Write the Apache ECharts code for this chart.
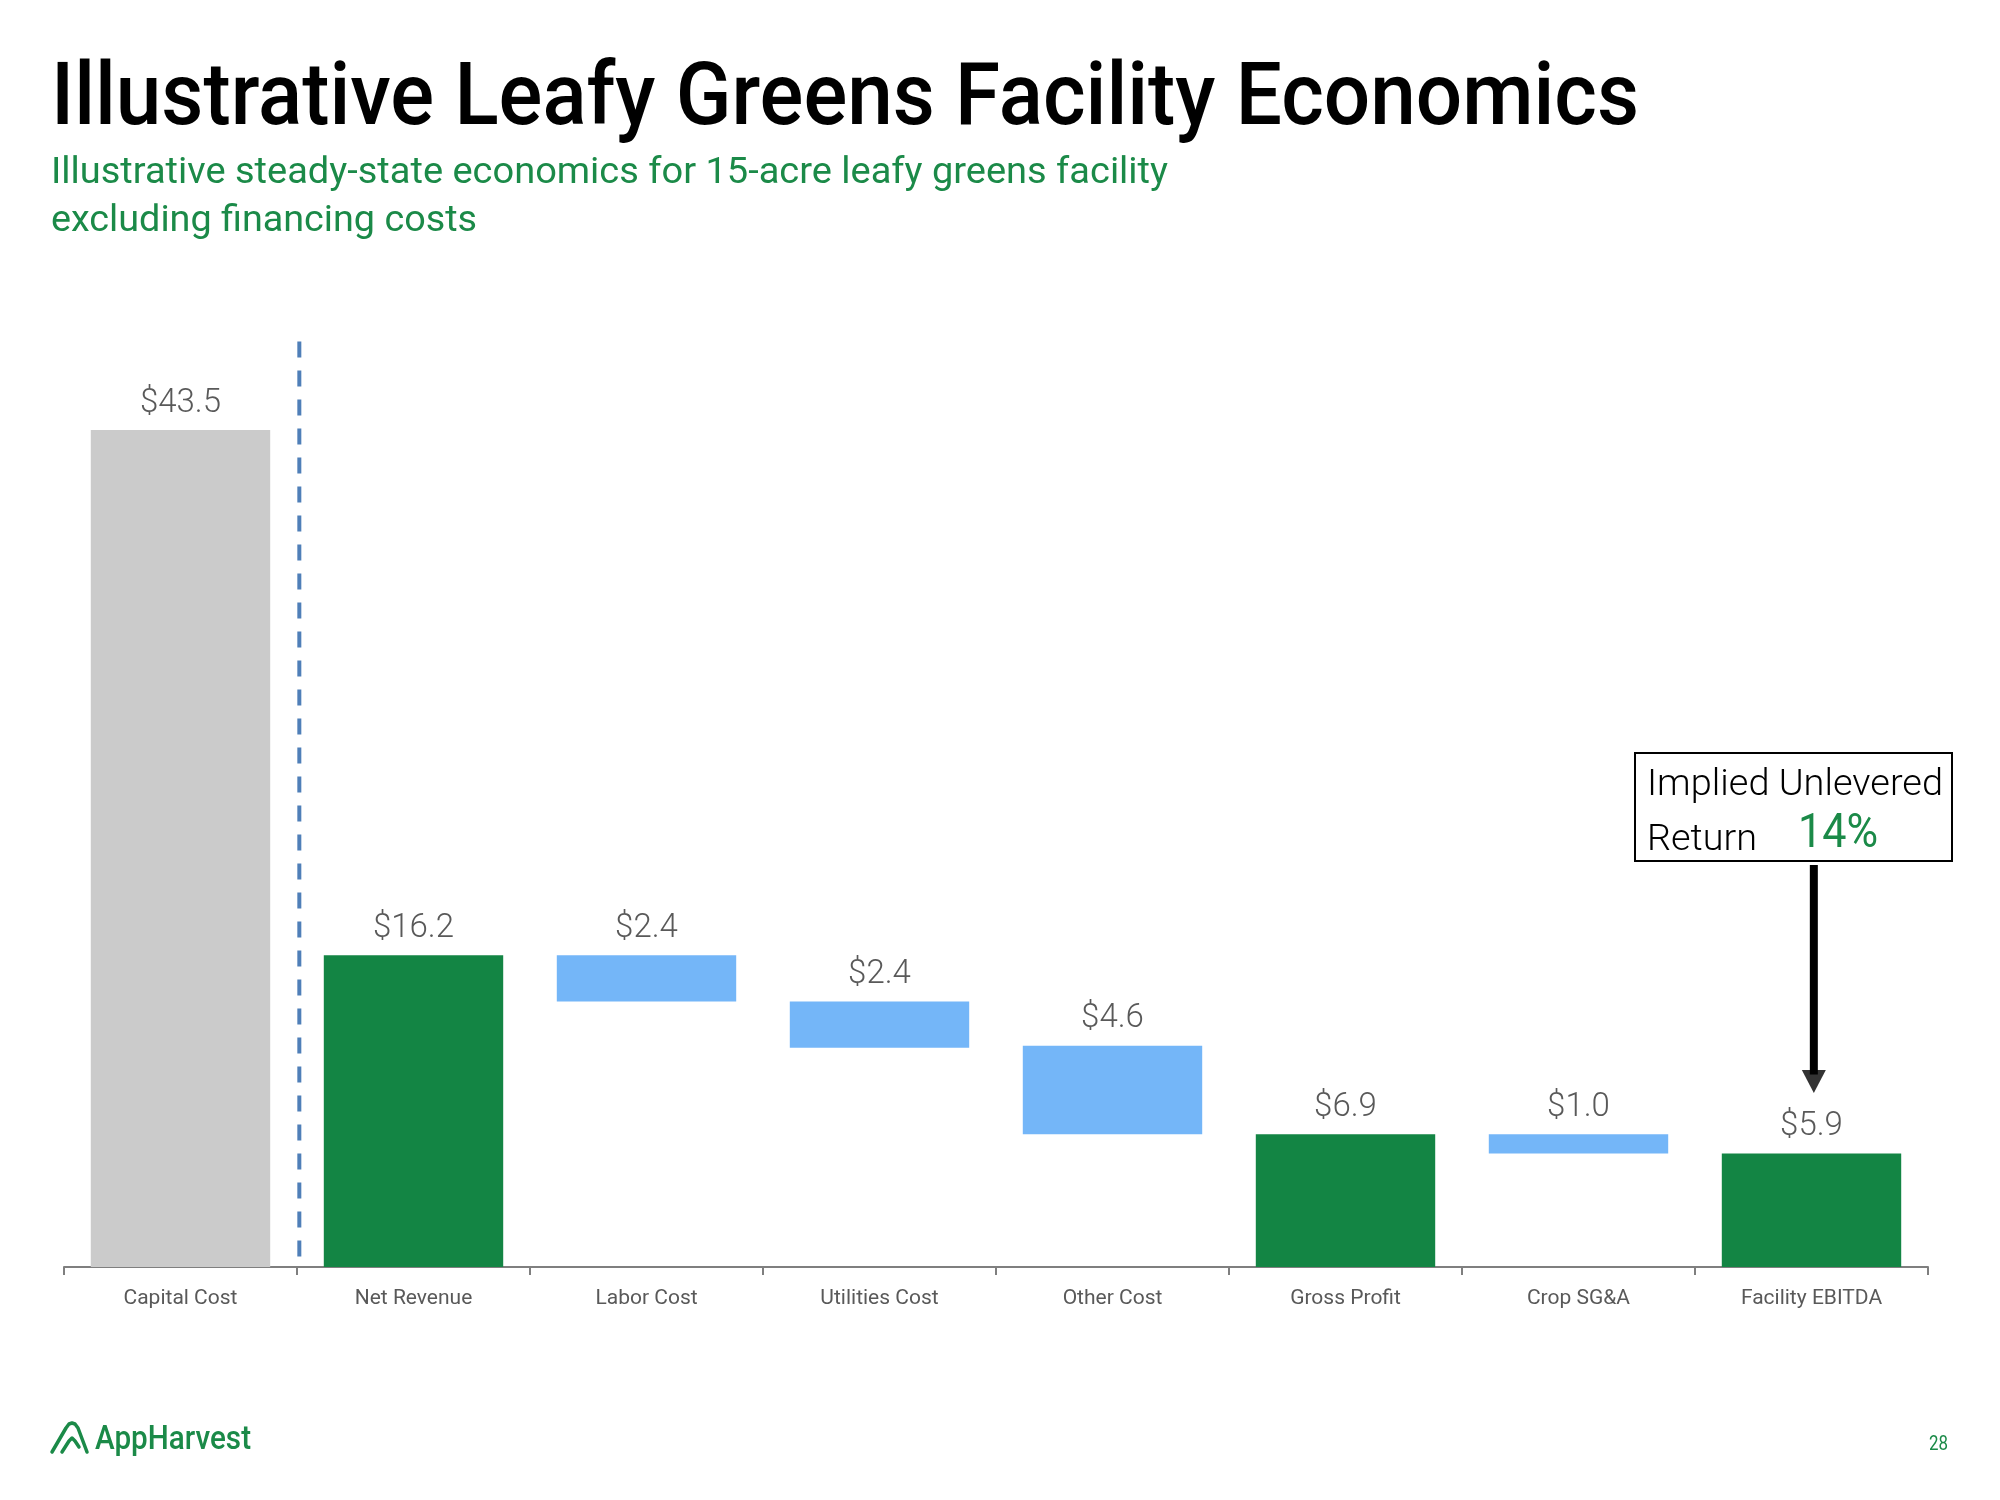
<!DOCTYPE html>
<html>
<head>
<meta charset="utf-8">
<script src="https://cdn.jsdelivr.net/npm/echarts@6/dist/echarts.min.js"></script>
<style>
html,body{margin:0;padding:0;background:#fff;}
#chart{width:2000px;height:1500px;}
</style>
</head>
<body>
<div id="chart"></div>
<script>
// ---- data ----
const categories = ['Capital Cost','Net Revenue','Labor Cost','Utilities Cost','Other Cost','Gross Profit','Crop SG&A','Facility EBITDA'];
const values = [43.5, 16.2, 2.4, 2.4, 4.6, 6.9, 1.0, 5.9];
const bases  = [0, 0, 13.8, 11.4, 6.9, 0, 5.9, 0];
const kinds  = ['capital','total','cost','cost','cost','total','cost','total'];
const dividerPoints = [[1.01, 48.1], [1.01, 0]];
const arrowLine = [[7.51, 20.9], [7.51, 10.0]];
const arrowHead = [[7.51, 9.64]];
const returnPct = '14%';

// ---- styles ----
const GREEN = '#138544';
const TEXT_GREEN = '#1b8a48';
const BLUE = '#74b6f8';
const GREY = '#cbcbcb';
const kindColor = {capital: GREY, total: GREEN, cost: BLUE};
const FONT = 'Roboto';

const ctx = document.createElement('canvas').getContext('2d');
function fitScale(text, weight, size, target){
  ctx.font = weight + ' ' + size + 'px ' + FONT;
  return target / ctx.measureText(text).width;
}
function txt(text, x, y, weight, size, color, target){
  const s = target ? fitScale(text, weight, size, target) : 1;
  return {type:'text', x:x, y:y, scaleX:s, scaleY:1, silent:true,
    style:{text:text, x:0, y:0, fill:color, font: weight + ' ' + size + 'px ' + FONT,
      textAlign:'left', textVerticalAlign:'middle'}};
}

const chart = echarts.init(document.getElementById('chart'));
const option = {
  animation:false,
  backgroundColor:'#fff',
  grid:{left:64, right:72, top:305, bottom:233},
  xAxis:[{
    type:'category', data:categories,
    axisLine:{lineStyle:{color:'#7f7f7f', width:2}},
    axisTick:{show:true, length:8, interval:0, lineStyle:{color:'#7f7f7f', width:2}},
    axisLabel:{color:'#595959', fontFamily:FONT, fontSize:21, margin:21, interval:0}
  },{
    type:'value', min:0, max:8, show:false
  }],
  yAxis:{type:'value', min:0, max:50, show:false, splitLine:{show:false}},
  series:[
    {type:'bar', stack:'w', data:bases, itemStyle:{color:'transparent'}, barCategoryGap:'23%', silent:true},
    {type:'bar', stack:'w', barCategoryGap:'23%',
      data: values.map((v,i)=>({value:v, itemStyle:{color:kindColor[kinds[i]]}})),
      label:{show:true, position:'top', distance:10, color:'#595959', fontFamily:FONT, fontWeight:300, fontSize:33,
        formatter:p=>'$' + p.value.toFixed(1)}
    },
    {type:'line', xAxisIndex:1, data:dividerPoints, showSymbol:false, symbol:'none',
      lineStyle:{color:'#4f7fb8', width:4, type:[16,13]}},
    {type:'line', xAxisIndex:1, data:arrowLine, showSymbol:false, symbol:'none',
      lineStyle:{color:'#000', width:8, cap:'butt'}},
    {type:'scatter', xAxisIndex:1, data:arrowHead, symbol:'triangle', symbolRotate:180,
      symbolSize:[24,23], itemStyle:{color:'#000'}}
  ],
  graphic:[
    txt('Illustrative Leafy Greens Facility Economics', 51, 102, 500, 88, '#000', 1588),
    txt('Illustrative steady-state economics for 15-acre leafy greens facility', 51, 174, 400, 36, TEXT_GREEN, 1117),
    txt('excluding financing costs', 51, 222, 400, 36, TEXT_GREEN, 426),
    {type:'rect', shape:{x:1635, y:753, width:317, height:108}, style:{fill:'none', stroke:'#000', lineWidth:2}, silent:true},
    txt('Implied Unlevered', 1647, 786, 300, 36, '#000', 296),
    txt('Return', 1647, 841, 300, 36, '#000', 110),
    txt(returnPct, 1798, 835, 400, 49, TEXT_GREEN, 80),
    {type:'polyline', silent:true, shape:{points:[[52,1452],[66,1428],[69,1424],[72,1423],[75,1424],[78,1428],[87,1452]]},
      style:{fill:'none', stroke:TEXT_GREEN, lineWidth:3.5, lineCap:'round', lineJoin:'round'}},
    {type:'polyline', silent:true, shape:{points:[[62,1452],[69,1441],[72,1438],[75,1441],[79,1447]]},
      style:{fill:'none', stroke:TEXT_GREEN, lineWidth:3.5, lineCap:'round', lineJoin:'round'}},
    txt('AppHarvest', 95, 1440, 500, 34, TEXT_GREEN, 156),
    txt('28', 1929, 1445, 400, 20, TEXT_GREEN, 19)
  ]
};
chart.setOption(option);
</script>
</body>
</html>
